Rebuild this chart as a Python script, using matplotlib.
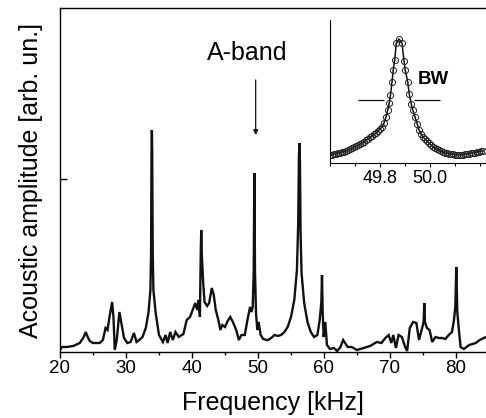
import matplotlib
matplotlib.use("Agg")
import matplotlib.pyplot as plt
from matplotlib.ticker import MultipleLocator

plt.rcParams['font.family'] = ['Liberation Sans', 'DejaVu Sans']

# Main spectrum (frequency in kHz, amplitude in arbitrary units)
freq = [20.0, 20.3, 21.0, 22.0, 23.0, 23.6, 23.9, 24.2, 24.5, 25.0, 26.0, 26.5, 26.9, 27.2, 27.5,
        27.9, 28.1, 28.3, 28.6, 29.0, 29.3, 29.7, 30.2, 30.7, 31.2, 31.6, 32.0, 32.5, 33.0, 33.4,
        33.7, 33.8, 33.87, 33.92, 33.97, 34.05, 34.15, 34.5, 35.0, 35.6, 36.0, 36.3, 36.7, 37.1,
        37.5, 38.0, 38.7, 39.2, 39.7, 40.1, 40.5, 40.8, 41.0, 41.2, 41.33, 41.4, 41.5, 41.7, 41.9,
        42.3, 42.6, 43.0, 43.3, 43.6, 44.0, 44.3, 44.6, 45.0, 45.4, 45.8, 46.2, 46.7, 47.1, 47.5,
        48.0, 48.4, 48.8, 49.0, 49.2, 49.35, 49.45, 49.55, 49.7, 49.9, 50.1, 50.4, 50.8, 51.3,
        51.5, 52.0, 52.5, 53.0, 53.5, 54.0, 54.5, 55.0, 55.5, 55.9, 56.1, 56.2, 56.28, 56.36,
        56.45, 56.6, 57.0, 57.5, 58.0, 58.5, 59.0, 59.35, 59.6, 59.7, 59.8, 59.95, 60.2, 60.45,
        60.9, 61.5, 62.0, 62.5, 62.9, 63.2, 63.6, 64.2, 65.0, 66.0, 67.0, 68.0, 68.7, 69.3, 69.8,
        70.2, 70.5, 70.9, 71.3, 71.8, 72.3, 72.6, 73.0, 73.5, 74.0, 74.4, 74.8, 75.1, 75.2, 75.3,
        75.6, 76.0, 76.4, 76.9, 77.4, 77.9, 78.4, 78.9, 79.4, 79.7, 79.9, 80.05, 80.2, 80.4, 80.7,
        81.2, 82.0, 83.0, 83.6, 84.2, 84.6]
amp = [2, 5, 5, 6, 9, 15, 20, 15, 11, 9, 9, 12, 24, 22, 35,
       50, 35, 2, 12, 40, 29, 14, 9, 10, 19, 10, 12, 15, 24, 39,
       62, 100, 200, 222, 200, 100, 62, 39, 17, 10, 17, 9, 20, 12,
       20, 15, 18, 32, 35, 42, 49, 42, 52, 35, 100, 122, 95, 69, 50,
       46, 49, 64, 57, 42, 32, 22, 27, 25, 31, 35, 30, 22, 12, 17,
       17, 32, 45, 40, 45, 80, 179, 80, 39, 22, 30, 17, 13, 12,
       12, 14, 17, 16, 17, 20, 25, 35, 52, 82, 130, 195, 209, 190,
       120, 79, 49, 30, 20, 15, 17, 32, 50, 77, 40, 15, 30, 7,
       3, 4, 1, 5, 12, 9, 5, 5, 2, 4, 6, 10, 9, 14, 17,
       9, 17, 4, 17, 15, 5, 1, 24, 30, 29, 12, 22, 30, 49, 30,
       24, 22, 10, 15, 14, 14, 13, 17, 20, 32, 45, 85, 40, 25, 5,
       3, 7, 9, 12, 14, 15]

# Inset: single resonance (A-band)
in_freq = [49.600, 49.608, 49.616, 49.624, 49.632, 49.640, 49.648, 49.656, 49.664, 49.672,
           49.680, 49.688, 49.696, 49.704, 49.712, 49.720, 49.728, 49.736, 49.744, 49.752,
           49.760, 49.768, 49.776, 49.784, 49.792, 49.800, 49.808, 49.816, 49.824, 49.831,
           49.837, 49.842, 49.848, 49.853, 49.859, 49.865, 49.876, 49.888, 49.896, 49.901,
           49.911, 49.917, 49.925, 49.931, 49.940, 49.949, 49.956, 49.964, 49.972, 49.980,
           49.988, 49.996, 50.004, 50.012, 50.020, 50.028, 50.036, 50.044, 50.052, 50.060,
           50.068, 50.076, 50.084, 50.092, 50.100, 50.108, 50.116, 50.124, 50.132, 50.140,
           50.148, 50.156, 50.164, 50.172, 50.180, 50.188, 50.196, 50.204, 50.212]
in_amp = [8, 8, 9, 9, 10, 10, 11, 11, 12, 13,
          14, 15, 16, 17, 18, 19, 20, 21, 23, 24,
          26, 27, 29, 30, 32, 34, 36, 40, 46, 53,
          60, 68, 81, 93, 103, 120, 124, 120, 102, 93,
          81, 69, 59, 53, 46, 39, 33, 29, 26, 24,
          22, 20, 18, 16, 15, 14, 13, 12, 11, 10,
          10, 9, 9, 9, 8, 8, 8, 8, 8, 9,
          9, 9, 10, 10, 10, 11, 11, 12, 12]

xticks = [20, 30, 40, 50, 60, 70, 80]
in_xticks = [49.8, 50.0]

fig = plt.figure(figsize=(4.86, 4.18), dpi=100)
ax = fig.add_axes([60/486, 66/418, 426/486, 344/418])
ax.plot(freq, amp, color='#111111', lw=1.7, solid_joinstyle='miter')
ax.set_xlim(20, 84.55)
ax.set_ylim(0, 344)
ax.set_xticks(xticks)
ax.xaxis.set_minor_locator(MultipleLocator(5))
ax.tick_params(axis='x', which='major', direction='out', length=4, width=1, labelsize=13.5, pad=2)
ax.tick_params(axis='x', which='minor', direction='out', length=2.5, width=1)
ax.set_yticks([173])
ax.set_yticklabels([])
ax.tick_params(axis='y', direction='in', length=5, width=1)
ax.spines['right'].set_visible(False)
for s in ['left', 'bottom', 'top']:
    ax.spines[s].set_linewidth(1.0)
ax.set_xlabel('Frequency [kHz]', fontsize=18)
ax.xaxis.set_label_coords(0.5, -0.112)
ax.set_ylabel('Acoustic amplitude [arb. un.]', fontsize=18)
ax.yaxis.set_label_coords(-0.040, 0.5)

ax.annotate('', xy=(49.65, 217), xytext=(49.65, 272),
            arrowprops=dict(arrowstyle='-|>', color='#111111', lw=0.9,
                            mutation_scale=7, shrinkA=0, shrinkB=0))
ax.text(48.3, 299, 'A-band', fontsize=18, ha='center', va='center')

axi = fig.add_axes([330/486, (418-163)/418, 156/486, 143/418])
axi.plot(in_freq, in_amp, color='#111111', lw=1.1)
axi.plot(in_freq, in_amp, ls='none', marker='o', ms=4.4, mfc='none', mec='#222222', mew=0.7)
axi.set_xlim(49.6, 50.224)
axi.set_ylim(0, 143)
axi.set_xticks(in_xticks)
axi.set_xticklabels(['49.8', '50.0'])
axi.xaxis.set_minor_locator(MultipleLocator(0.1))
axi.tick_params(axis='x', which='major', direction='out', length=3, width=0.8, labelsize=13, pad=2)
axi.tick_params(axis='x', which='minor', direction='out', length=2, width=0.8)
axi.set_yticks([])
axi.spines['top'].set_visible(False)
axi.spines['right'].set_visible(False)
axi.spines['left'].set_linewidth(0.8)
axi.spines['bottom'].set_linewidth(0.8)
axi.hlines([63, 63], [49.712, 49.936], [49.816, 50.04], color='#111111', lw=0.9)
axi.text(49.952, 83, 'BW', fontsize=13.5, fontweight='bold', ha='left', va='center')

fig.savefig('out.png', dpi=100)
